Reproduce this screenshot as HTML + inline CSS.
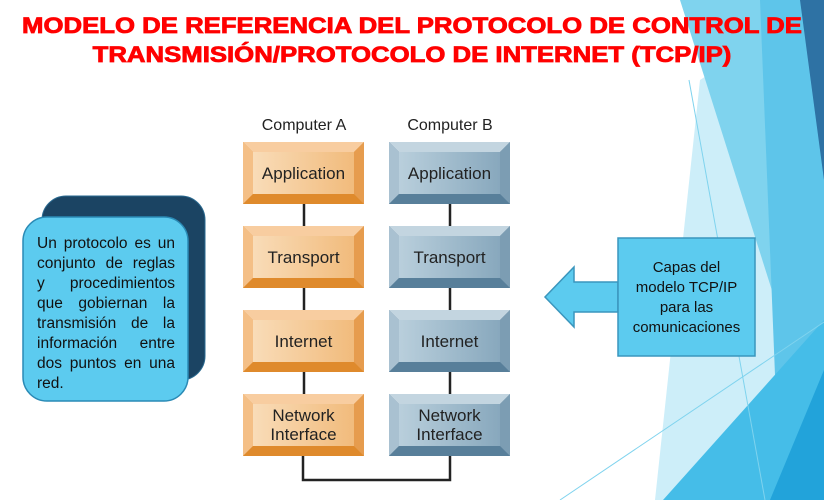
<!DOCTYPE html>
<html><head><meta charset="utf-8"><style>
body{margin:0;width:824px;height:500px;overflow:hidden;background:#fff;position:relative;font-family:"Liberation Sans","DejaVu Sans",sans-serif}
.t{position:absolute;left:0;width:824px;text-align:center;color:#ff0000;font-weight:bold;font-size:22px;white-space:nowrap;-webkit-text-stroke:0.8px #ff0000;transform:scaleX(1.17);transform-origin:412px 0}
.lb div{text-align:justify;text-align-last:justify;height:20px;white-space:nowrap}
</style></head><body>
<svg width="824" height="500" style="position:absolute;left:0;top:0">
<defs>
<linearGradient id="go" x1="0" y1="0" x2="1" y2="0"><stop offset="0" stop-color="#f9dcb8"/><stop offset="1" stop-color="#f1bb7c"/></linearGradient>
<linearGradient id="gb" x1="0" y1="0" x2="1" y2="0"><stop offset="0" stop-color="#b9cfdc"/><stop offset="1" stop-color="#88a8bd"/></linearGradient>
</defs>
<polygon points="700,80 824,0 824,500 655,500" fill="#cdeef9"/>
<polygon points="680,0 824,0 824,500 775,300" fill="#7fd3ee"/>
<polygon points="760,0 824,0 824,500 780,500" fill="#5ec5ea"/>
<polygon points="663,500 824,320 824,500" fill="#45bde8"/>
<polygon points="800,0 824,0 824,180" fill="#2e72a4"/>
<polygon points="770,500 824,370 824,500" fill="#22a3da"/>
<line x1="689" y1="80" x2="765" y2="500" stroke="#7fd3ee" stroke-width="1"/>
<line x1="560" y1="500" x2="824" y2="322" stroke="#7fd3ee" stroke-width="1"/>
<g stroke="#222" stroke-width="2.5">
<line x1="304" y1="204" x2="304" y2="226"/><line x1="304" y1="288" x2="304" y2="310"/><line x1="304" y1="372" x2="304" y2="394"/>
<line x1="450" y1="204" x2="450" y2="226"/><line x1="450" y1="288" x2="450" y2="310"/><line x1="450" y1="372" x2="450" y2="394"/>
<polyline points="303,456 303,480 450,480 450,456" fill="none"/>
</g>
<g id="boxes"></g>
<rect x="42" y="196" width="163" height="184" rx="24" fill="#1b4463" stroke="#2a6a90"/>
<rect x="23" y="217" width="165" height="184" rx="24" fill="#5ccbef" stroke="#2a8ab5" stroke-width="1.5"/>
<polygon points="545,297 574,267 574,282 618,282 618,312 574,312 574,327" fill="#5ccbef" stroke="#3a96bd" stroke-width="1.5"/>
<rect x="618" y="238" width="137" height="118" fill="#5ccbef" stroke="#3a96bd" stroke-width="1.5"/>
<g font-family="Liberation Sans, DejaVu Sans, sans-serif" font-size="16" fill="#222" text-anchor="middle">
<text x="304" y="130">Computer A</text><text x="450" y="130">Computer B</text>
</g>
</svg>
<script>
(function(){
 var g=document.getElementById('boxes'),s='';
 var ys=[142,226,310,394],labs=[['Application'],['Transport'],['Internet'],['Network','Interface']];
 function box(x,y,o,l){var w=121,h=62,b=10;
  var c=o?['#f8cda0','#f4bf86','#e69c4e','#df8a2c','url(#go)','#e3a460']:['#c3d5e0','#a9c1d1','#7c9db3','#587f9a','url(#gb)','#6d8ea6'];
  var r='<rect x="'+x+'" y="'+y+'" width="'+w+'" height="'+h+'" fill="'+c[5]+'"/>';
  r+='<polygon points="'+x+','+y+' '+(x+w)+','+y+' '+(x+w-b)+','+(y+b)+' '+(x+b)+','+(y+b)+'" fill="'+c[0]+'"/>';
  r+='<polygon points="'+x+','+y+' '+(x+b)+','+(y+b)+' '+(x+b)+','+(y+h-b)+' '+x+','+(y+h)+'" fill="'+c[1]+'"/>';
  r+='<polygon points="'+(x+w)+','+y+' '+(x+w)+','+(y+h)+' '+(x+w-b)+','+(y+h-b)+' '+(x+w-b)+','+(y+b)+'" fill="'+c[2]+'"/>';
  r+='<polygon points="'+x+','+(y+h)+' '+(x+w)+','+(y+h)+' '+(x+w-b)+','+(y+h-b)+' '+(x+b)+','+(y+h-b)+'" fill="'+c[3]+'"/>';
  r+='<rect x="'+(x+b)+'" y="'+(y+b)+'" width="'+(w-2*b)+'" height="'+(h-2*b)+'" fill="'+c[4]+'"/>';
  var cx=x+w/2;
  if(l.length==1)r+='<text x="'+cx+'" y="'+(y+37)+'" font-size="17" text-anchor="middle" fill="#222" font-family="Liberation Sans, DejaVu Sans, sans-serif">'+l[0]+'</text>';
  else r+='<text x="'+cx+'" y="'+(y+27)+'" font-size="17" text-anchor="middle" fill="#222" font-family="Liberation Sans, DejaVu Sans, sans-serif">'+l[0]+'</text><text x="'+cx+'" y="'+(y+46)+'" font-size="17" text-anchor="middle" fill="#222" font-family="Liberation Sans, DejaVu Sans, sans-serif">'+l[1]+'</text>';
  return r;}
 for(var i=0;i<4;i++){s+=box(243,ys[i],true,labs[i]);s+=box(389,ys[i],false,labs[i]);}
 g.innerHTML=s;
})();
</script>
<div class="t" style="top:13px">MODELO DE REFERENCIA DEL PROTOCOLO DE CONTROL DE</div>
<div class="t" style="top:42px">TRANSMISIÓN/PROTOCOLO DE INTERNET (TCP/IP)</div>
<div class="lb" style="position:absolute;left:37px;top:234px;width:138px;font-size:15.5px;line-height:20px;color:#111">
<div>Un protocolo es un</div><div>conjunto de reglas</div><div>y procedimientos</div><div>que gobiernan la</div><div>transmisión de la</div><div>información entre</div><div>dos puntos en una</div><div style="text-align-last:left">red.</div>
</div>
<div style="position:absolute;left:618px;top:258px;width:137px;font-size:15px;line-height:20px;color:#111;text-align:center">Capas del<br>modelo TCP/IP<br>para las<br>comunicaciones</div>
</body></html>
